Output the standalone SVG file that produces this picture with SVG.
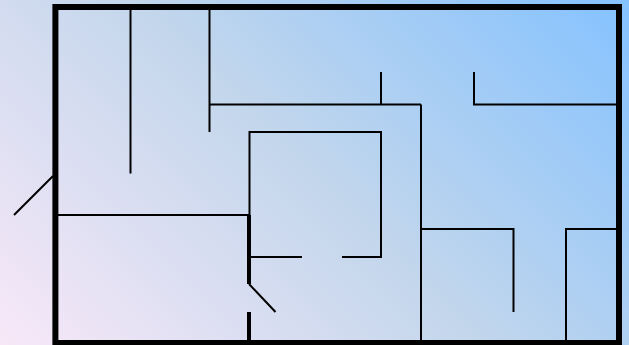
<svg xmlns="http://www.w3.org/2000/svg" width="629" height="345" viewBox="0 0 629 345">
<defs>
<linearGradient id="bg" gradientUnits="userSpaceOnUse" x1="71" y1="416" x2="558" y2="-71">
<stop offset="0" stop-color="#f8e8f8"/>
<stop offset="0.5" stop-color="#c2d6ec"/>
<stop offset="1" stop-color="#84c2ff"/>
</linearGradient>
</defs>
<style>
.w{fill:none;stroke:#000;stroke-width:2}
.t{fill:none;stroke:#000;stroke-width:4}
.o{fill:none;stroke:#000;stroke-width:6}
</style>
<rect width="629" height="345" fill="url(#bg)"/>
<g id="walls">
<rect class="o" x="55.4" y="7" width="563.6" height="336"/>
<path class="w" d="M130.5 10V173.500M209.500 10V132M209.500 104.500H421M381 72V104.500M421 104.500V340M474 72V104.500H616M421 229H513.500V312M566 340V229H616"/>
<path class="w" d="M58 215H249M249.500 215V132H381V257H342M249 257H302M53 176L14 215M249 284L275.500 312"/>
<path class="t" d="M249 215V284M249 312V340"/>
</g>
</svg>
